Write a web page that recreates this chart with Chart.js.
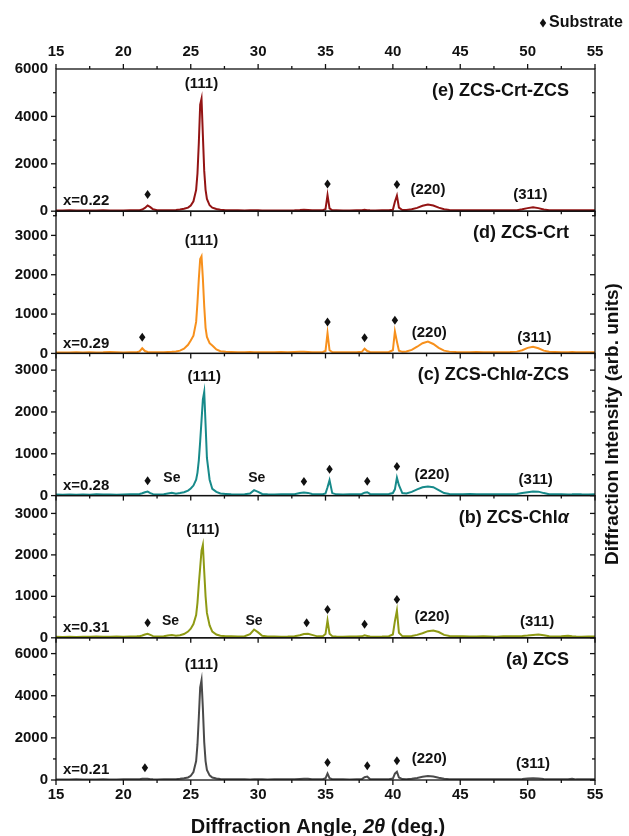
<!DOCTYPE html>
<html>
<head>
<meta charset="utf-8">
<script src="https://cdn.jsdelivr.net/npm/chart.js@4.4.1/dist/chart.umd.min.js"></script>
<style>
    html, body { margin: 0; padding: 0; background: #fff; }
    #wrap { position: relative; width: 629px; height: 836px; }
</style>
</head>
<body>
<div id="wrap"><canvas id="xrdChart" width="629" height="836"></canvas></div>
<script>
// 2θ (deg.) - shared sampling for every pattern
const angles = [
    15, 15.5, 16, 16.5, 17, 17.5, 18, 18.5, 19, 19.5, 20, 20.5, 21,
    21.2, 21.4, 21.6, 21.8, 22.0, 22.2, 22.5,
    23, 23.3, 23.6, 23.9, 24.2, 24.5, 24.8, 25.0, 25.2, 25.4, 25.5, 25.6, 25.7, 25.8, 25.9, 26.0, 26.1, 26.2, 26.4, 26.6, 26.9, 27.2, 27.6,
    28, 28.5, 29, 29.4, 29.7, 30.0, 30.3, 30.7, 31.2, 31.7, 32.2, 32.7, 33.1, 33.4, 33.7, 34.0, 34.4, 34.8,
    35.0, 35.15, 35.3,
    35.5, 35.8, 36.3, 36.8, 37.3, 37.7,
    37.9, 38.1, 38.3,
    38.7, 39.2, 39.7,
    40.0, 40.15, 40.3, 40.45, 40.7,
    41.0, 41.4, 41.8, 42.2, 42.6, 43.0, 43.4, 43.8,
    44.2, 44.7, 45.2, 45.7, 46.2, 46.7, 47.2, 47.7, 48.2, 48.7, 49.2,
    49.6, 50.0, 50.4, 50.8, 51.2,
    51.6, 52.0, 52.5, 53.0, 53.3, 53.6, 54.0, 54.5, 55
];

// (a) ZCS
const intensityA = [
    25, 28, 22, 30, 25, 28, 24, 30, 26, 28, 30, 32, 35,
    40, 55, 65, 55, 40, 30, 28,
    30, 32, 35, 40, 55, 80, 120, 200, 380, 900, 1700, 3000, 4400, 4740, 3400, 1800, 900, 480, 220, 120, 70, 50, 40,
    35, 30, 32, 28, 30, 33, 30, 28, 32, 30, 35, 40, 50, 60, 55, 40, 35, 40,
    80, 310, 90,
    40, 32, 30, 28, 35, 40,
    130, 160, 50,
    32, 30, 40,
    70, 300, 390, 120, 45,
    40, 60, 100, 150, 190, 170, 110, 60,
    40, 35, 32, 30, 35, 30, 32, 30, 35, 32, 38,
    50, 75, 80, 70, 50,
    38, 35, 32, 38, 55, 30, 32, 30, 30
];
// (b) ZCS-Chlα
const intensityB = [
    25, 22, 28, 20, 26, 24, 30, 25, 28, 30, 25, 32, 35,
    40, 55, 80, 95, 70, 40, 30,
    35, 55, 70, 50, 60, 90, 150, 220, 330, 550, 850, 1300, 1700, 2100, 2240, 1600, 1000, 600, 300, 150, 80, 50, 40,
    35, 30, 40, 90, 200, 130, 50, 30, 32, 28, 30, 38, 60, 90, 95, 70, 35, 35,
    90, 420, 100,
    40, 30, 28, 32, 30, 35,
    60, 45, 30,
    28, 32, 40,
    80, 400, 660, 120, 40,
    35, 45, 70, 110, 160, 175, 140, 70,
    45, 35, 38, 30, 32, 35, 30, 28, 35, 40, 38,
    45, 55, 70, 80, 60,
    35, 30, 35, 50, 35, 30, 28, 32, 30
];
// (c) ZCS-Chlα-ZCS
const intensityC = [
    25, 20, 28, 22, 26, 20, 30, 24, 28, 22, 26, 30, 35,
    40, 55, 80, 95, 60, 35, 28,
    30, 50, 65, 45, 60, 80, 120, 170, 240, 380, 550, 850, 1300, 1800, 2300, 2480, 1700, 900, 380, 160, 90, 50, 40,
    30, 28, 35, 50, 130, 90, 40, 30, 28, 32, 30, 35, 60, 75, 65, 40, 30, 35,
    50, 200, 370,
    60, 30, 28, 30, 32, 40,
    70, 80, 40,
    30, 32, 40,
    60, 150, 430, 250, 60,
    50, 90, 150, 200, 215, 200, 130, 60,
    40, 35, 30, 38, 32, 30, 35, 30, 32, 35, 40,
    60, 80, 100, 95, 60,
    35, 30, 32, 28, 30, 35, 30, 28, 30
];
// (d) ZCS-Crt
const intensityD = [
    20, 25, 22, 28, 24, 30, 25, 28, 35, 30, 26, 28, 30,
    50, 130, 60, 35, 30, 28, 30,
    32, 35, 40, 50, 70, 120, 220, 330, 450, 800, 1300, 1900, 2400, 2470, 1900, 1200, 650, 420, 260, 200, 100, 55, 40,
    35, 32, 30, 34, 30, 28, 32, 30, 28, 33, 30, 35, 40, 45, 38, 32, 30, 35,
    60, 520, 80,
    35, 30, 28, 30, 32, 40,
    120, 60, 35,
    30, 32, 38,
    80, 560, 300, 70, 40,
    50, 90, 170, 260, 300, 240, 140, 70,
    45, 35, 32, 30, 35, 30, 28, 32, 30, 35, 45,
    80, 140, 170, 130, 70,
    40, 35, 30, 32, 35, 30, 28, 30, 32
];
// (e) ZCS-Crt-ZCS
const intensityE = [
    30, 25, 35, 28, 30, 32, 28, 35, 30, 33, 30, 35, 38,
    45, 70, 140, 240, 170, 80, 45,
    35, 38, 45, 55, 70, 100, 150, 240, 420, 900, 1600, 2900, 4500, 4750, 3200, 1700, 900, 520, 250, 150, 90, 60, 45,
    38, 35, 33, 35, 38, 35, 32, 30, 32, 30, 33, 38, 50, 65, 50, 38, 35, 40,
    90, 680, 120,
    40, 35, 32, 30, 35, 40,
    60, 45, 35,
    32, 35, 40,
    60, 400, 660, 150, 50,
    55, 80, 140, 230, 280, 240, 150, 80,
    50, 40, 35, 38, 35, 40, 45, 38, 35, 40, 45,
    80, 130, 165, 130, 70,
    45, 40, 38, 45, 40, 35, 38, 35, 35
];

// substrate (♦) and Se reflections, 2θ
const substrateA = [21.6, 35.15, 38.1, 40.3];
const substrateB = [21.8, 33.6, 35.15, 37.9, 40.3];
const substrateC = [21.8, 33.4, 35.3, 38.1, 40.3];
const substrateD = [21.4, 35.15, 37.9, 40.15];
const substrateE = [21.8, 35.15, 40.3];
const seB = [23.5, 29.7];
const seC = [23.6, 29.9];
const peak220 = [42.7, 42.9, 42.9, 42.7, 42.6];
const peak311 = [50.4, 50.7, 50.6, 50.5, 50.2];

// panels from bottom (a) to top (e)
const panelIds = ['yA', 'yB', 'yC', 'yD', 'yE'];
const compositions = ['x=0.21', 'x=0.31', 'x=0.28', 'x=0.29', 'x=0.22'];
const panelMax = [6750, 3430, 3400, 3615, 6000];
const panelStep = [2000, 1000, 1000, 1000, 2000];
const yTicksBig = [0, 2000, 4000, 6000];
const yTicksSmall = [0, 1000, 2000, 3000];
const xTicks = [15, 20, 25, 30, 35, 40, 45, 50, 55];

const series = [intensityA, intensityB, intensityC, intensityD, intensityE];
const substrates = [substrateA, substrateB, substrateC, substrateD, substrateE];
const seList = [[], seB, seC, [], []];
const titles = [
    [{ t: '(a) ZCS' }],
    [{ t: '(b) ZCS-Chl' }, { t: 'α', it: true }],
    [{ t: '(c) ZCS-Chl' }, { t: 'α', it: true }, { t: '-ZCS' }],
    [{ t: '(d) ZCS-Crt' }],
    [{ t: '(e) ZCS-Crt-ZCS' }]
];
const colors = ['#4a4a4a', '#8e9a14', '#178a8a', '#f7901c', '#931414'];

const FONT = '"Liberation Sans", Arial, sans-serif';

function yAxis(i) {
    const tickValues = panelStep[i] === 2000 ? yTicksBig : yTicksSmall;
    return {
        type: 'linear',
        position: 'left',
        stack: 'panels',
        stackWeight: 1,
        min: 0,
        max: panelMax[i],
        grid: { display: false, drawTicks: false },
        border: { display: false },
        afterBuildTicks: s => { s.ticks = tickValues.map(v => ({ value: v })); },
        ticks: {
            padding: 8,
            color: '#111',
            font: { family: FONT, size: 15, weight: 'bold' },
            callback: v => String(v)
        },
        afterFit: s => { s.width = 56; }
    };
}

function xAxis(pos, h, pad) {
    return {
        type: 'linear',
        position: pos,
        min: 15,
        max: 55,
        grid: { display: false, drawTicks: false },
        border: { display: false },
        afterBuildTicks: s => { s.ticks = xTicks.map(v => ({ value: v })); },
        ticks: {
            padding: pad,
            color: '#111',
            font: { family: FONT, size: 15, weight: 'bold' },
            callback: v => String(v)
        },
        afterFit: s => { s.height = h; }
    };
}

function line(ctx, x1, y1, x2, y2) {
    ctx.beginPath();
    ctx.moveTo(x1, y1);
    ctx.lineTo(x2, y2);
    ctx.stroke();
}

// text made of runs, some italic
function drawRuns(ctx, runs, x, y, size, align) {
    const fontOf = r => (r.it ? 'italic ' : '') + 'bold ' + size + 'px ' + FONT;
    let total = 0;
    runs.forEach(r => { ctx.font = fontOf(r); total += ctx.measureText(r.t).width; });
    let cx = align === 'right' ? x - total : (align === 'center' ? x - total / 2 : x);
    ctx.textAlign = 'left';
    ctx.textBaseline = 'middle';
    runs.forEach(r => {
        ctx.font = fontOf(r);
        ctx.fillText(r.t, cx, y);
        cx += ctx.measureText(r.t).width;
    });
}

function diamond(ctx, x, y) {
    ctx.beginPath();
    ctx.moveTo(x, y - 4.5);
    ctx.lineTo(x + 3.2, y);
    ctx.lineTo(x, y + 4.5);
    ctx.lineTo(x - 3.2, y);
    ctx.closePath();
    ctx.fill();
}

// highest intensity near an angle
function localMax(data, angle, win) {
    let m = 0;
    angles.forEach((a, k) => { if (Math.abs(a - angle) <= win && data[k] > m) m = data[k]; });
    return m;
}

const panelFrame = {
    id: 'panelFrame',
    afterDatasetsDraw(chart) {
        const ctx = chart.ctx;
        const xs = chart.scales.x;
        const L = chart.chartArea.left, R = chart.chartArea.right;
        ctx.save();
        ctx.strokeStyle = '#111';
        ctx.fillStyle = '#111';
        ctx.lineWidth = 1.3;

        panelIds.forEach((id, i) => {
            const ys = chart.scales[id];
            ctx.strokeRect(L, ys.top, R - L, ys.bottom - ys.top);

            // y ticks, left outward and right inward
            const step = panelStep[i];
            for (let v = 0; v < ys.max; v += step / 2) {
                const py = ys.getPixelForValue(v);
                const len = v % step === 0 ? 5 : 3;
                line(ctx, L - len, py, L, py);
                line(ctx, R - len, py, R, py);
            }
            // x ticks under each panel
            for (let a = 15; a <= 55; a += 2.5) {
                const px = xs.getPixelForValue(a);
                const len = a % 5 === 0 ? 5 : 3;
                line(ctx, px, ys.bottom, px, ys.bottom + len);
            }

            // annotations
            const data = series[i];
            const base = ys.getPixelForValue(0);
            let top = 0, topAngle = 25.8;
            data.forEach((v, k) => { if (v > top) { top = v; topAngle = angles[k]; } });
            drawRuns(ctx, [{ t: '(111)' }], xs.getPixelForValue(topAngle), ys.getPixelForValue(top) - 15, 15, 'center');
            drawRuns(ctx, [{ t: '(220)' }], xs.getPixelForValue(peak220[i]), base - 21, 15, 'center');
            drawRuns(ctx, [{ t: '(311)' }], xs.getPixelForValue(peak311[i]), base - 16, 15, 'center');
            drawRuns(ctx, [{ t: compositions[i] }], xs.getPixelForValue(15) + 7, base - 10, 15, 'left');
            drawRuns(ctx, titles[i], 569, ys.top + 22, 18, 'right');
            seList[i].forEach(a => drawRuns(ctx, [{ t: 'Se' }], xs.getPixelForValue(a), base - 17, 14, 'center'));
            substrates[i].forEach(a => {
                const py = ys.getPixelForValue(localMax(data, a, 0.25));
                diamond(ctx, xs.getPixelForValue(a), py - 11);
            });
        });

        // top axis ticks
        const topY = chart.chartArea.top;
        for (let a = 15; a <= 55; a += 2.5) {
            const px = xs.getPixelForValue(a);
            line(ctx, px, topY, px, topY - (a % 5 === 0 ? 5 : 3));
        }

        // legend for substrate
        diamond(ctx, 543, 23);
        drawRuns(ctx, [{ t: 'Substrate' }], 549, 23, 16, 'left');

        // axis titles
        drawRuns(ctx, [{ t: 'Diffraction Angle, ' }, { t: '2θ', it: true }, { t: ' (deg.)' }], 318, 827, 20, 'center');
        ctx.translate(613, 424);
        ctx.rotate(-Math.PI / 2);
        drawRuns(ctx, [{ t: 'Diffraction Intensity (arb. units)' }], 0, 0, 19, 'center');
        ctx.restore();
    }
};

const scales = { x: xAxis('bottom', 56, 6), x2: xAxis('top', 69, 8) };
panelIds.forEach((id, i) => { scales[id] = yAxis(i); });

new Chart(document.getElementById('xrdChart'), {
    type: 'line',
    data: {
        datasets: series.map((data, i) => ({
            label: titles[i].map(r => r.t).join(''),
            data: angles.map((a, k) => ({ x: a, y: data[k] })),
            yAxisID: panelIds[i],
            xAxisID: 'x',
            borderColor: colors[i],
            borderWidth: 2,
            pointRadius: 0,
            tension: 0,
            fill: false
        }))
    },
    options: {
        responsive: false,
        animation: false,
        devicePixelRatio: 1,
        layout: { padding: { top: 0, right: 34, bottom: 0, left: 0 } },
        plugins: { legend: { display: false }, tooltip: { enabled: false } },
        scales: scales
    },
    plugins: [panelFrame]
});
</script>
</body>
</html>
